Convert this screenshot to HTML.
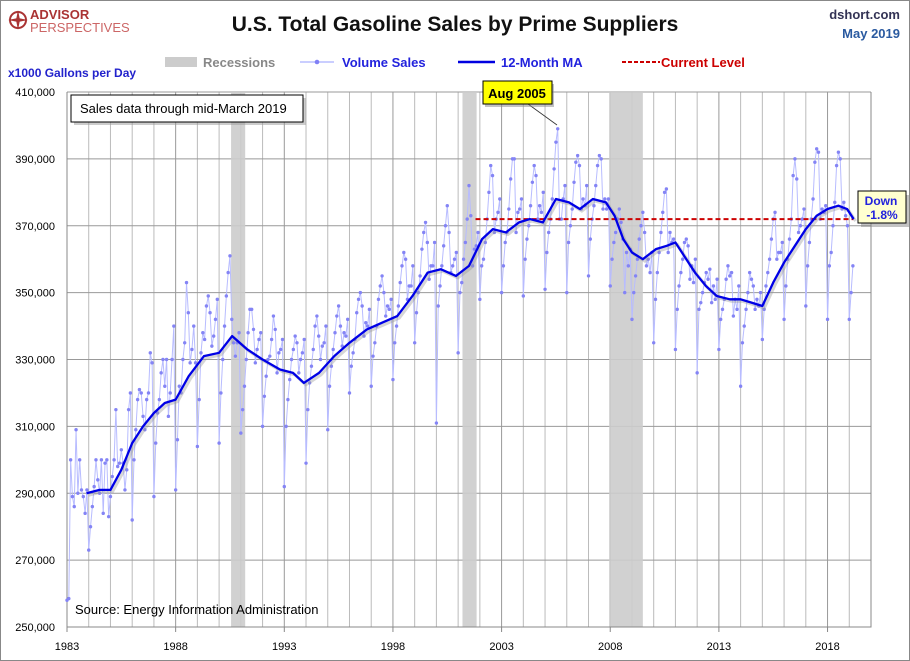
<!DOCTYPE html>
<html><head><meta charset="utf-8"><style>
body{margin:0;background:#fff;font-family:"Liberation Sans",sans-serif}
#wrap{position:relative;width:910px;height:661px;overflow:hidden}
</style></head><body>
<div id="wrap">
<svg id="chart" width="910" height="661" xmlns="http://www.w3.org/2000/svg">
<rect x="0.5" y="0.5" width="909" height="660" fill="#fff" stroke="#888"/>
<g>
<circle cx="18" cy="20" r="8" fill="none" stroke="#a33" stroke-width="2"/>
<path d="M18 10 L20 20 L18 30 L16 20 Z M8 20 L18 18 L28 20 L18 22 Z" fill="#a33"/>
<text x="30" y="19" font-size="13" font-weight="bold" fill="#a33">ADVISOR</text>
<text x="30" y="32" font-size="13" fill="#c66">PERSPECTIVES</text>
</g>
<text x="455" y="31" font-size="21" font-weight="bold" text-anchor="middle" fill="#111">U.S. Total Gasoline Sales by Prime Suppliers</text>
<text x="900" y="19" font-size="13" font-weight="bold" text-anchor="end" fill="#335">dshort.com</text>
<text x="900" y="38" font-size="13" font-weight="bold" text-anchor="end" fill="#2a5aa0">May 2019</text>
<g>
<rect x="165" y="57" width="32" height="10" fill="#ccc"/>
<text x="203" y="67" font-size="13" font-weight="bold" fill="#888">Recessions</text>
<line x1="300" y1="62" x2="334" y2="62" stroke="#aab0ff" stroke-width="1.2"/>
<circle cx="317" cy="62" r="2.3" fill="#8080f5"/>
<text x="342" y="67" font-size="13" font-weight="bold" fill="#2222dd">Volume Sales</text>
<line x1="458" y1="62" x2="495" y2="62" stroke="#0000e0" stroke-width="2.5"/>
<text x="501" y="67" font-size="13" font-weight="bold" fill="#2222dd">12-Month MA</text>
<line x1="622" y1="62" x2="660" y2="62" stroke="#c00" stroke-width="2" stroke-dasharray="4,2"/>
<text x="661" y="67" font-size="13" font-weight="bold" fill="#c00">Current Level</text>
</g>
<text x="8" y="77" font-size="12" font-weight="bold" fill="#2222cc">x1000 Gallons per Day</text>
<g id="grid"></g><g id="rec"></g><g id="axes"></g><g id="series"></g>
<g>
<rect x="74" y="98" width="232" height="27" fill="#999" opacity="0.5"/>
<rect x="71" y="95" width="232" height="27" fill="#fff" stroke="#000"/>
<text x="80" y="113" font-size="13" fill="#000">Sales data through mid-March 2019</text>
</g>
<text x="75" y="614" font-size="13" fill="#000">Source: Energy Information Administration</text>
<g>
<line x1="528" y1="104" x2="557" y2="125" stroke="#333" stroke-width="0.8"/>
<rect x="485" y="84" width="69" height="23" fill="#888" opacity="0.5"/>
<rect x="483" y="81" width="69" height="23" fill="#ff0" stroke="#000"/>
<text x="517" y="98" font-size="13" font-weight="bold" text-anchor="middle">Aug 2005</text>
</g>
<g>
<rect x="861" y="195" width="48" height="32" fill="#888" opacity="0.5"/>
<rect x="858" y="191" width="48" height="32" fill="#ffffd0" stroke="#000"/>
<text x="881" y="205" font-size="12" font-weight="bold" fill="#2222dd" text-anchor="middle">Down</text>
<text x="882" y="219" font-size="12" font-weight="bold" fill="#2222dd" text-anchor="middle">-1.8%</text>
</g>
</svg>
</div>
<script>
const volStartYear = 1983;
const volumeSales = [
258,258.5,300,289,286,309,290,300,291,289,284,291,
273,280,286,292,300,294,290,300,284,299,300,283,
289,295,300,315,298,299,303,299,291,297,315,320,
282,300,309,318,321,320,313,309,318,320,332,329,
289,305,314,318,326,330,322,330,313,320,330,340,
291,306,322,320,330,335,353,344,329,333,340,329,
304,318,332,338,336,346,349,344,334,337,342,348,
305,320,330,340,349,356,361,342,335,331,335,338,
308,315,322,330,338,345,345,339,329,333,336,338,
310,319,325,330,331,336,343,339,326,332,333,336,
292,310,318,324,330,333,337,335,326,330,332,336,
299,315,323,328,333,340,343,337,330,334,335,340,
309,322,328,333,338,343,346,340,334,338,337,342,
320,328,332,336,344,348,350,346,337,341,340,345,
322,331,335,340,348,352,355,350,343,346,345,348,
324,335,340,346,353,358,362,360,348,352,352,358,
335,344,350,355,363,368,371,365,354,358,358,365,
311,346,352,358,364,370,376,368,356,358,360,362,
332,350,353,360,365,372,382,373,358,363,364,368,
348,358,360,365,372,380,388,385,368,372,374,378,
350,358,365,368,375,384,390,390,368,374,375,378,
349,360,366,370,376,383,388,385,372,376,374,380,
351,362,368,372,378,387,395,399,372,372,378,382,
350,365,370,375,383,389,391,388,375,378,376,382,
355,366,372,376,382,388,391,390,375,378,375,378,
352,360,365,368,372,375,371,366,350,362,358,363,
342,350,355,360,366,370,374,368,358,360,356,362,
335,348,356,362,368,374,380,381,362,368,365,366,
333,345,352,356,360,365,366,364,354,358,353,360,
326,345,347,350,353,356,354,357,347,352,348,354,
333,342,345,348,354,358,355,356,343,348,345,352,
322,335,340,345,350,356,354,352,345,348,346,350,
336,345,352,356,360,366,372,374,360,362,362,365,
342,352,360,366,372,385,390,384,368,370,372,375,
346,358,365,372,378,389,393,392,372,375,374,376,
342,358,362,370,377,388,392,390,375,377,373,370,
342,350,358];
const maDates = [1983.9,1984.5,1985.0,1985.5,1986.0,1986.5,1987.0,1987.5,1988.0,1988.6,1989.3,1990.0,1990.6,1991.3,1992.0,1992.8,1993.4,1993.9,1994.6,1995.3,1996.0,1996.8,1997.5,1998.2,1998.9,1999.6,2000.2,2000.9,2001.5,2002.1,2002.6,2003.2,2003.8,2004.3,2004.9,2005.5,2006.1,2006.6,2007.2,2007.8,2008.2,2008.6,2009.0,2009.5,2010.1,2010.6,2011.0,2011.4,2011.9,2012.4,2012.9,2013.5,2014.0,2014.5,2015.0,2015.5,2016.0,2016.5,2017.0,2017.5,2018.0,2018.5,2018.9,2019.2];
const maValues = [290,291,291,297,305,310,314,317,318,325,331,332,337,333,330,327,326,323,326,331,335,339,341,343,349,356,357,355,358,366,369,368,371,372,371,378,377,375,378,377,373,366,362,360,363,364,365,361,356,352,349,348,348,347,346,353,359,364,369,373,375,376,375,372];
const currentLevel = 372;
const currentStart = 2001.8, currentEnd = 2019.2;
const recessions = [[1990.55,1991.2],[2001.2,2001.85],[2007.95,2009.5]];
const yTicks = [250,270,290,310,330,350,370,390,410];
const xTicks = [1983,1988,1993,1998,2003,2008,2013,2018];

const L=67,R=871,T=92,B=627,Y0=250,Y1=410,X0=1983,X1=2020;
const NS="http://www.w3.org/2000/svg";
function xs(t){return L+(t-X0)/(X1-X0)*(R-L);}
function ys(v){return B-(v-Y0)/(Y1-Y0)*(B-T);}
function mk(tag,attrs,parent){const e=document.createElementNS(NS,tag);for(const k in attrs)e.setAttribute(k,attrs[k]);parent.appendChild(e);return e;}
const grid=document.getElementById('grid'),axes=document.getElementById('axes'),series=document.getElementById('series'),rec=document.getElementById('rec');
for(let yr=X0+1;yr<=X1;yr++){
  const l=mk('line',{x1:xs(yr),x2:xs(yr),y1:T,y2:B,stroke:(yr-1983)%5===0?'#999':'#bbb','stroke-width':1},grid);
  
  
}
yTicks.forEach(v=>{
  const l=mk('line',{x1:L,x2:R,y1:ys(v),y2:ys(v),stroke:'#999','stroke-width':1},grid);
  
  
  const t=mk('text',{x:55,y:ys(v)+4,'font-size':11,'text-anchor':'end',fill:'#000'},axes);
  t.textContent=v.toLocaleString('en-US')+',000';
  
  
});
xTicks.forEach(yr=>{
  const t=mk('text',{x:xs(yr),y:650,'font-size':11,'text-anchor':'middle',fill:'#000'},axes);
  t.textContent=yr;
  
  
  const k=mk('line',{x1:xs(yr),x2:xs(yr),y1:B,y2:B+5,stroke:'#888'},axes);
  
  
});
recessions.forEach(r=>{
  const e=mk('rect',{x:xs(r[0]),y:T,width:xs(r[1])-xs(r[0]),height:B-T,fill:'#ccc',opacity:0.9},rec);
  
  
});
const ax=mk('path',{d:`M${L} ${T} V${B} H${R} V${T}`,fill:'none',stroke:'#888'},axes);


const vpts=volumeSales.map((v,i)=>[xs(volStartYear+i/12),ys(v)]);
const vl=mk('polyline',{points:vpts.map(p=>p.join(',')).join(' '),fill:'none',stroke:'#b8bcff','stroke-width':1},series);


vpts.forEach(p=>{
  const c=mk('circle',{cx:p[0],cy:p[1],r:1.7,fill:'#8484f5'},series);
  
  
});
const cl=mk('line',{x1:xs(currentStart),x2:xs(currentEnd),y1:ys(currentLevel),y2:ys(currentLevel),stroke:'#c00','stroke-width':2,'stroke-dasharray':'5,3'},series);


const mpts=maDates.map((d,i)=>xs(d)+','+ys(maValues[i])).join(' ');
const ms=mk('polyline',{points:mpts,fill:'none',stroke:'#999','stroke-width':3,opacity:0.4,transform:'translate(2,2)'},series);


const ml=mk('polyline',{points:mpts,fill:'none',stroke:'#0000e6','stroke-width':2.3,'stroke-linejoin':'round'},series);


</script>
</body></html>
